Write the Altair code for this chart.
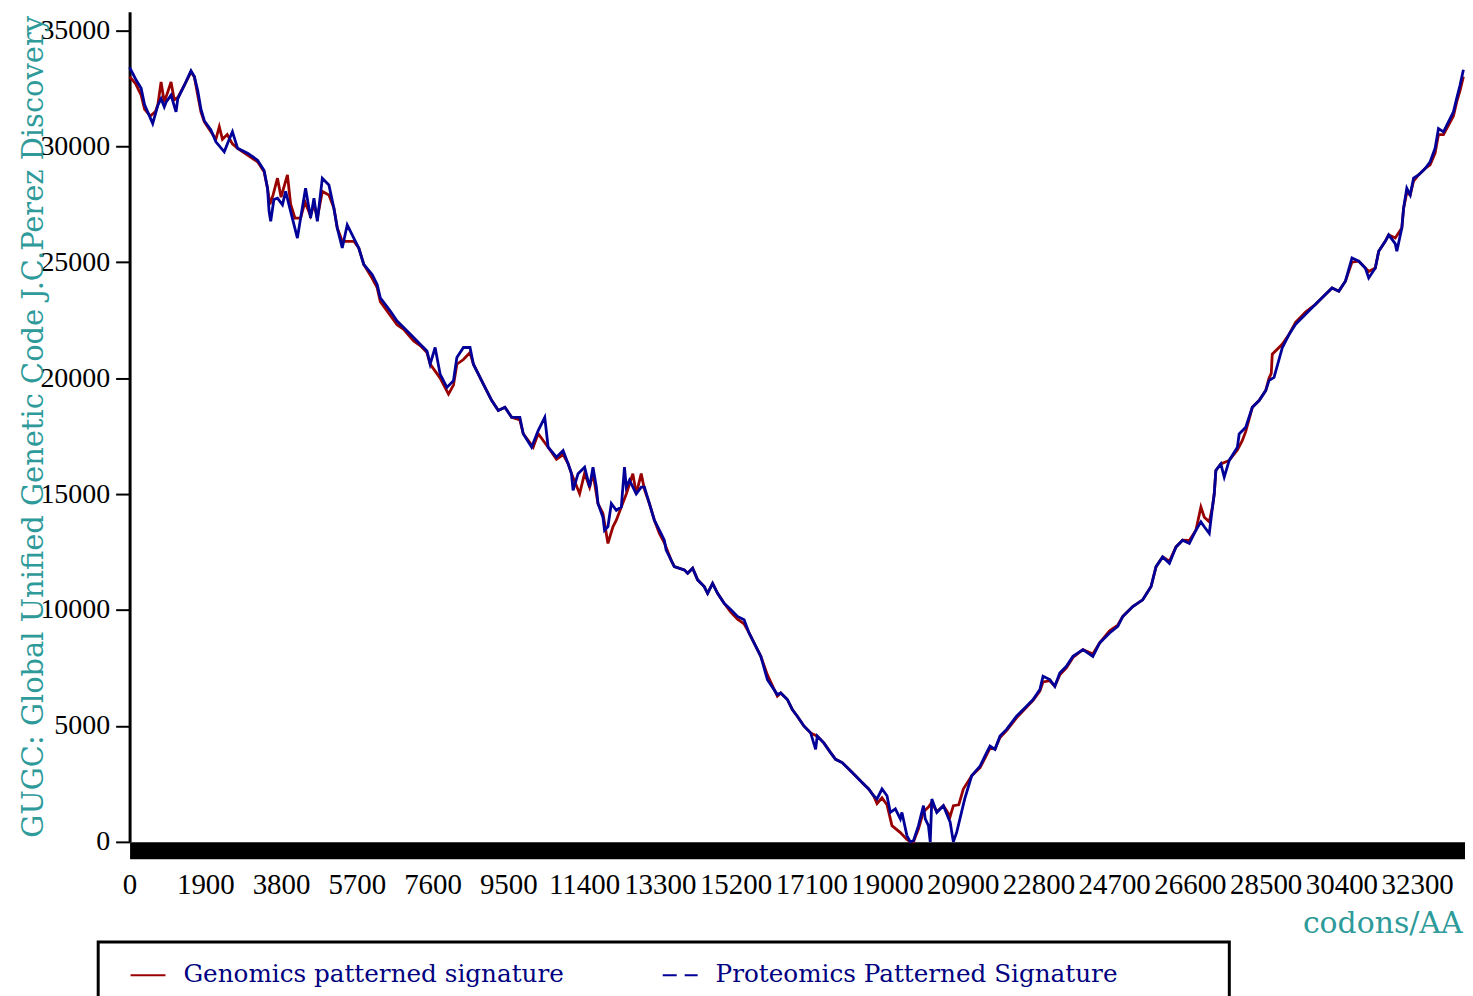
import altair as alt
import pandas as pd

SERIES = ["Genomics patterned signature", "Proteomics Patterned Signature"]
COLORS = ["#990000", "#000099"]
X_TICKS = [0, 1900, 3800, 5700, 7600, 9500, 11400, 13300, 15200, 17100,
           19000, 20900, 22800, 24700, 26600, 28500, 30400, 32300]
Y_TICKS = [0, 5000, 10000, 15000, 20000, 25000, 30000, 35000]

gen_x = [0, 150, 290, 375, 520, 650, 710, 790, 870, 950, 1040, 1120, 1210, 1375, 1540, 1625,
         1710, 1790, 1875, 2040, 2165, 2250, 2330, 2450, 2580, 2710, 2960, 3210, 3375, 3460,
         3520, 3600, 3710, 3800, 3960, 4040, 4150, 4290, 4400, 4540, 4625, 4710, 4835, 5000,
         5125, 5210, 5335, 5500, 5625, 5750, 5875, 6085, 6210, 6290, 6540, 6710, 6875, 7125,
         7290, 7460, 7540, 7790, 8000, 8125, 8210, 8375, 8540, 8625, 8750, 8875, 9085, 9250,
         9415, 9585, 9790, 9875, 10125, 10250, 10500, 10710, 10875, 11000, 11085, 11290, 11415,
         11540, 11625, 11750, 11875, 12000, 12125, 12210, 12335, 12460, 12625, 12710, 12835,
         12915, 13040, 13165, 13290, 13415, 13585, 13665, 13915, 14000, 14125, 14250, 14415,
         14500, 14625, 14750, 14915, 15085, 15250, 15415, 15540, 15665, 15835, 16000, 16250,
         16335, 16500, 16625, 16750, 16915, 17085, 17250, 17415, 17585, 17710, 17875, 18040,
         18210, 18375, 18540, 18665, 18750, 18875, 19000, 19125, 19335, 19500, 19585, 19665,
         19790, 19915, 20040, 20125, 20250, 20415, 20585, 20665, 20800, 20915, 21125, 21335,
         21500, 21585, 21710, 21835, 22000, 22250, 22500, 22665, 22835, 22915, 23085, 23210,
         23335, 23500, 23665, 23915, 24165, 24335, 24585, 24790, 24915, 25165, 25415, 25625,
         25750, 25915, 26085, 26250, 26415, 26585, 26750, 26875, 26960, 27085, 27165, 27210,
         27250, 27375, 27585, 27790, 27915, 28000, 28165, 28335, 28500, 28585, 28640, 28665,
         28915, 29085, 29250, 29500, 29750, 29915, 30165, 30335, 30500, 30665, 30835, 31000,
         31085, 31250, 31335, 31500, 31585, 31750, 31915, 31960, 32040, 32125, 32210, 32335,
         32500, 32625, 32750, 32835, 32960, 33085, 33210, 33290, 33375, 33460]
gen_y = [33000, 32700, 32200, 31600, 31300, 31500, 31800, 32770, 31900, 32300, 32770, 32000,
         32100, 32630, 33200, 32990, 32200, 31480, 31050, 30620, 30300, 30840, 30300, 30500,
         30100, 29910, 29620, 29330, 28900, 28190, 27500, 27900, 28620, 27800, 28760, 27500,
         26900, 26900, 27600, 27000, 27500, 26900, 28050, 27900, 27330, 26470, 25900, 25900,
         25900, 25610, 24900, 24300, 23900, 23300, 22700, 22300, 22100, 21600, 21400, 21100,
         20600, 20000, 19310, 19700, 20600, 20800, 21100, 20600, 20170, 19740, 19030, 18600,
         18740, 18310, 18200, 17600, 17020, 17600, 17020, 16500, 16700, 16310, 15880, 15010,
         15900, 15300, 15900, 14590, 14160, 12870, 13590, 13870, 14440, 15000, 15880, 15010,
         15880, 15200, 14590, 13870, 13300, 12900, 12150, 11870, 11730, 11580, 11800, 11300,
         11010, 10720, 11150, 10720, 10290, 9900, 9600, 9400, 9010, 8580, 8000, 7200, 6280,
         6420, 6140, 5710, 5420, 5000, 4700, 4560, 4270, 3850, 3560, 3420, 3140, 2850, 2560,
         2280, 1990, 1650, 1900, 1600, 700, 400, 100, 0, 0, 560, 1300, 1500, 1700, 1300, 1560,
         1100, 1560, 1600, 2280, 2850, 3200, 3750, 4050, 4000, 4500, 4800, 5350, 5800, 6100,
         6500, 6900, 6950, 6710, 7200, 7500, 7950, 8290, 8100, 8580, 9100, 9350, 9720, 10150,
         10440, 11010, 11870, 12290, 12100, 12720, 13010, 13000, 13440, 14440, 14000, 13800,
         14440, 15010, 16020, 16300, 16450, 16900, 17310, 17700, 18740, 19030, 19460, 20000,
         20200, 21030, 21460, 21880, 22400, 22850, 23180, 23460, 23890, 23750, 24180, 25000,
         25040, 24750, 24600, 24750, 25470, 25900, 26180, 26040, 26470, 27330, 28000, 27900,
         28500, 28760, 29040, 29200, 29700, 30500, 30500, 30900, 31300, 31900, 32400, 33000]

pro_x = [0, 150, 290, 375, 580, 710, 790, 870, 915, 1040, 1165, 1210, 1375, 1540, 1625, 1710,
         1790, 1875, 2040, 2165, 2375, 2500, 2580, 2710, 2960, 3210, 3375, 3460, 3500, 3540,
         3620, 3710, 3835, 3915, 4040, 4210, 4290, 4415, 4540, 4625, 4710, 4835, 5000, 5125,
         5210, 5335, 5460, 5625, 5750, 5875, 6085, 6210, 6290, 6540, 6710, 6875, 7125, 7290,
         7460, 7540, 7665, 7790, 7960, 8125, 8210, 8375, 8540, 8625, 8750, 8875, 9085, 9250,
         9415, 9585, 9790, 9875, 10085, 10250, 10415, 10500, 10710, 10875, 11000, 11085, 11125,
         11250, 11415, 11540, 11625, 11710, 11750, 11875, 11915, 12000, 12085, 12210, 12335,
         12415, 12460, 12540, 12710, 12835, 12915, 13040, 13165, 13290, 13415, 13460, 13585,
         13665, 13915, 14000, 14125, 14250, 14415, 14500, 14625, 14750, 14915, 15085, 15250,
         15415, 15540, 15665, 15835, 16000, 16250, 16335, 16500, 16625, 16750, 16915, 17085,
         17210, 17250, 17415, 17585, 17710, 17875, 18040, 18210, 18375, 18540, 18665, 18750,
         18875, 19000, 19085, 19210, 19335, 19375, 19500, 19585, 19665, 19790, 19915, 19960,
         20040, 20085, 20125, 20250, 20415, 20585, 20665, 20750, 20950, 21125, 21335, 21500,
         21585, 21710, 21835, 22000, 22250, 22500, 22665, 22835, 22915, 23085, 23210, 23335,
         23500, 23665, 23915, 24165, 24335, 24585, 24790, 24915, 25165, 25415, 25625, 25750,
         25915, 26085, 26250, 26415, 26585, 26750, 26875, 26960, 27085, 27165, 27210, 27250,
         27375, 27460, 27585, 27790, 27835, 28000, 28165, 28335, 28500, 28585, 28710, 28915,
         29085, 29250, 29500, 29750, 29915, 30165, 30335, 30500, 30665, 30835, 31000, 31085,
         31250, 31335, 31500, 31585, 31750, 31790, 31915, 31960, 32040, 32125, 32210, 32335,
         32500, 32625, 32750, 32835, 32960, 33085, 33210, 33290, 33375, 33460]
pro_y = [33400, 32900, 32500, 31800, 30980, 31770, 32050, 31700, 31900, 32200, 31480, 32050,
         32630, 33250, 33000, 32400, 31600, 31100, 30700, 30190, 29760, 30300, 30620, 29910,
         29700, 29400, 28950, 28190, 27180, 26760, 27700, 27760, 27470, 28050, 27190, 26040,
         26900, 28190, 26900, 27760, 26760, 28620, 28330, 27330, 26470, 25610, 26610, 26040,
         25610, 24900, 24470, 24040, 23460, 22890, 22460, 22180, 21750, 21460, 21170, 20600,
         21320, 20170, 19600, 19890, 20890, 21320, 21320, 20600, 20170, 19740, 19030, 18600,
         18740, 18310, 18310, 17600, 17020, 17740, 18310, 17020, 16590, 16880, 16310, 15880,
         15160, 15880, 16160, 15300, 16160, 15300, 14590, 14000, 13440, 13600, 14590, 14300,
         14440, 16160, 15300, 15600, 15010, 15300, 15300, 14590, 13870, 13440, 13010, 12580,
         12150, 11870, 11730, 11580, 11800, 11300, 11010, 10720, 11150, 10720, 10290, 10010,
         9720, 9580, 9010, 8580, 8000, 7000, 6350, 6420, 6140, 5710, 5420, 5000, 4700, 3990,
         4560, 4270, 3850, 3560, 3420, 3140, 2850, 2560, 2280, 1990, 1850, 2280, 1990, 1270,
         1420, 990, 1270, 270, 0, 50, 700, 1560, 990, 700, 0, 1850, 1270, 1560, 850, 0, 420,
         1850, 2850, 3270, 3850, 4130, 3990, 4560, 4850, 5420, 5850, 6140, 6570, 7140, 7000,
         6710, 7280, 7570, 8000, 8290, 8000, 8580, 9010, 9290, 9720, 10150, 10440, 11010,
         11870, 12290, 12010, 12720, 13010, 12870, 13440, 13800, 13590, 13300, 14440, 15010,
         16020, 16300, 15730, 16450, 17020, 17590, 17880, 18740, 19030, 19460, 19900, 20030,
         21300, 21880, 22320, 22750, 23180, 23460, 23890, 23750, 24180, 25180, 25040, 24750,
         24320, 24750, 25470, 25900, 26180, 25800, 25470, 26470, 27330, 28190, 27900, 28620,
         28760, 29040, 29330, 29910, 30760, 30620, 31050, 31480, 32050, 32630, 33300]

rows = []
for i, (a, b) in enumerate(zip(gen_x, gen_y)):
    rows.append({"series": SERIES[0], "x": a, "y": b, "i": i})
for i, (a, b) in enumerate(zip(pro_x, pro_y)):
    rows.append({"series": SERIES[1], "x": a, "y": b, "i": i})
df = pd.DataFrame(rows)

TEAL = "#2E9A9A"

xenc = alt.X("x:Q", scale=alt.Scale(domain=[0, 33500], nice=False, zero=False),
             axis=alt.Axis(values=X_TICKS, format="d", title="codons/AA", grid=False,
                           domain=True, domainColor="black", domainWidth=17, offset=8.5,
                           tickSize=0, ticks=False, labelPadding=20, labelFont="Liberation Serif",
                           labelFontSize=29, labelColor="black", labelOverlap=False,
                           labelFlush=False, titleFont="DejaVu Serif", titleFontSize=30,
                           titleFontWeight="normal", titleColor=TEAL, titleAnchor="end",
                           titleAlign="right", titleBaseline="alphabetic", titleX=1337,
                           titleY=82))
yenc = alt.Y("y:Q", scale=alt.Scale(domain=[0, 35800], nice=False),
             axis=alt.Axis(values=Y_TICKS, format="d",
                           title="GUGC: Global Unified Genetic Code J.C.Perez Discovery",
                           grid=False, domainColor="black", domainWidth=3, tickSize=14,
                           tickWidth=2, tickColor="black", labelPadding=6,
                           labelFont="Liberation Serif", labelFontSize=28, labelColor="black",
                           titleFont="DejaVu Serif", titleFontSize=29, titleFontWeight="normal",
                           titleColor=TEAL, titleBaseline="alphabetic", titleX=-87,
                           titleY=416, titleAngle=270, titleAlign="center"))

legend = alt.Legend(title=None, orient="none", legendX=-33, legendY=930, direction="horizontal",
                    symbolType="stroke", symbolSize=1225, symbolStrokeWidth=2, symbolOffset=15,
                    labelOffset=17, columnPadding=83, padding=18,
                    labelFont="DejaVu Serif", labelFontSize=24.75, labelColor="#000080",
                    labelLimit=0)

color = alt.Color("series:N", scale=alt.Scale(domain=SERIES, range=COLORS), legend=legend)

lines = alt.Chart(df).mark_line(strokeWidth=2.8).encode(
    x=xenc, y=yenc, color=color, order="i:Q")

dummy = alt.Chart(df).transform_filter("false").mark_line(strokeWidth=2).encode(
    x=xenc, y=yenc, color=color,
    strokeDash=alt.StrokeDash("series:N",
                              scale=alt.Scale(domain=SERIES, range=[[1, 0], [14, 8]]),
                              legend=legend))

# frame drawn around the legend (decoration only)
frame = alt.Chart(alt.Data(values=[{}])).mark_rect(
    fill=None, stroke="black", strokeWidth=3, clip=False
).encode(x=alt.value(-31.5), x2=alt.value(1103.5), y=alt.value(933.5), y2=alt.value(1030))

chart = alt.layer(lines, dummy, frame).properties(
    width=1340, height=833,
    autosize=alt.AutoSizeParams(type="none"),
    padding={"left": 122, "top": 2, "right": 0, "bottom": 175},
).configure_view(stroke=None)

chart.save("out.html", embed_options={"renderer": "svg", "actions": False})
